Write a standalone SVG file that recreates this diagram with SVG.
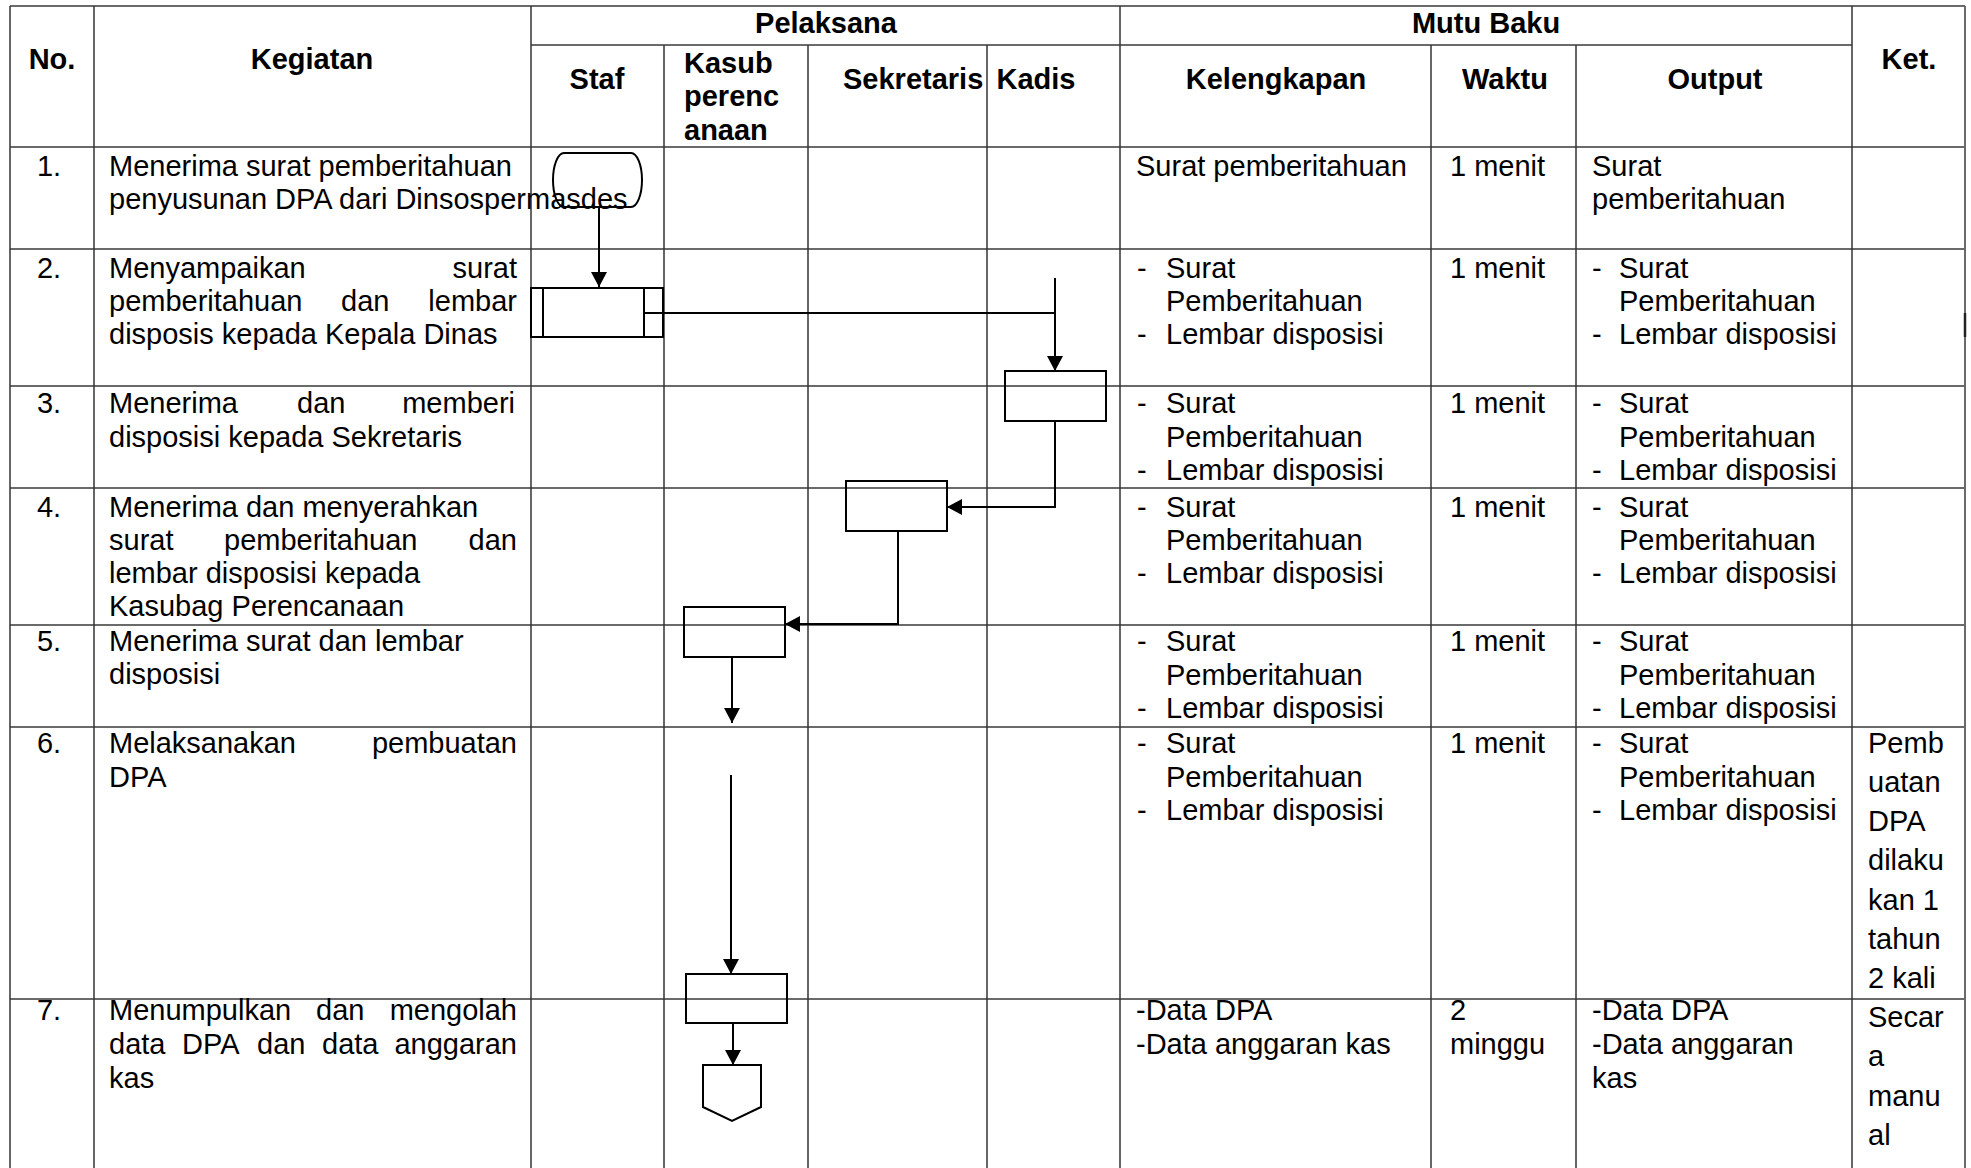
<svg xmlns="http://www.w3.org/2000/svg" width="1971" height="1168" viewBox="0 0 1971 1168">
<style>
text{font-family:"Liberation Sans",Arial,sans-serif;font-size:29px;fill:#000}
.b{font-weight:bold}
.m{text-anchor:middle}
.e{text-anchor:end}
.h{stroke:#6a6a6a;stroke-width:2;fill:none}
.v{stroke:#333;stroke-width:1.5;fill:none}
.shape{stroke:#000;stroke-width:2;fill:none}
.con{stroke:#000;stroke-width:2;fill:none}
</style>
<defs>
<marker id="arr" markerUnits="userSpaceOnUse" markerWidth="17" markerHeight="17" refX="15" refY="8" orient="auto">
<path d="M0,0 L15,8 L0,16 Z" fill="#000"/>
</marker>
</defs>
<rect width="1971" height="1168" fill="#fff"/>

<g id="grid">
<line class="h" x1="10" y1="6" x2="1965" y2="6"/>
<line class="h" x1="531" y1="45" x2="1852" y2="45"/>
<line class="h" x1="10" y1="147" x2="1965" y2="147"/>
<line class="h" x1="10" y1="249" x2="1965" y2="249"/>
<line class="h" x1="10" y1="386" x2="1965" y2="386"/>
<line class="h" x1="10" y1="488" x2="1965" y2="488"/>
<line class="h" x1="10" y1="625" x2="1965" y2="625"/>
<line class="h" x1="10" y1="727" x2="1965" y2="727"/>
<line class="h" x1="10" y1="999" x2="1965" y2="999"/>
<line class="v" x1="10" y1="6" x2="10" y2="1168"/>
<line class="v" x1="94" y1="6" x2="94" y2="1168"/>
<line class="v" x1="531" y1="6" x2="531" y2="1168"/>
<line class="v" x1="664" y1="45" x2="664" y2="1168"/>
<line class="v" x1="808" y1="45" x2="808" y2="1168"/>
<line class="v" x1="987" y1="45" x2="987" y2="1168"/>
<line class="v" x1="1120" y1="6" x2="1120" y2="1168"/>
<line class="v" x1="1431" y1="45" x2="1431" y2="1168"/>
<line class="v" x1="1576" y1="45" x2="1576" y2="1168"/>
<line class="v" x1="1852" y1="6" x2="1852" y2="1168"/>
<line class="h" x1="1965" y1="6" x2="1965" y2="1168"/>
<line x1="1965" y1="313" x2="1965" y2="337" stroke="#222" stroke-width="2.5"/>
</g>

<g id="header">
<text class="b m" x="52" y="69">No.</text>
<text class="b m" x="312" y="69">Kegiatan</text>
<text class="b m" x="826" y="33">Pelaksana</text>
<text class="b m" x="1486" y="33">Mutu Baku</text>
<text class="b m" x="1909" y="69">Ket.</text>
<text class="b m" x="597" y="89">Staf</text>
<text class="b" x="684" y="73">Kasub</text>
<text class="b" x="684" y="106">perenc</text>
<text class="b" x="684" y="140">anaan</text>
<text class="b" x="843" y="89">Sekretaris</text>
<text class="b m" x="1036" y="89">Kadis</text>
<text class="b m" x="1276" y="89">Kelengkapan</text>
<text class="b m" x="1505" y="89">Waktu</text>
<text class="b m" x="1715" y="89">Output</text>
</g>

<g id="row1">
<text class="m" x="49" y="176">1.</text>
<text x="109" y="176">Menerima surat pemberitahuan</text>
<text x="109" y="209">penyusunan DPA dari Dinsospermasdes</text>
<text x="1136" y="176">Surat pemberitahuan</text>
<text x="1450" y="176">1 menit</text>
<text x="1592" y="176">Surat</text>
<text x="1592" y="209">pemberitahuan</text>
</g>

<g id="row2">
<text class="m" x="49" y="278">2.</text>
<text x="109" y="278">Menyampaikan</text>
<text class="e" x="517" y="278">surat</text>
<text x="109" y="311">pemberitahuan</text>
<text x="341" y="311">dan</text>
<text class="e" x="517" y="311">lembar</text>
<text x="109" y="344">disposis kepada Kepala Dinas</text>
<text x="1137" y="278">-</text><text x="1166" y="278">Surat</text>
<text x="1166" y="311">Pemberitahuan</text>
<text x="1137" y="344">-</text><text x="1166" y="344">Lembar disposisi</text>
<text x="1450" y="278">1 menit</text>
<text x="1592" y="278">-</text><text x="1619" y="278">Surat</text>
<text x="1619" y="311">Pemberitahuan</text>
<text x="1592" y="344">-</text><text x="1619" y="344">Lembar disposisi</text>
</g>

<g id="row3">
<text class="m" x="49" y="413">3.</text>
<text x="109" y="413">Menerima</text>
<text x="297" y="413">dan</text>
<text class="e" x="515" y="413">memberi</text>
<text x="109" y="447">disposisi kepada Sekretaris</text>
<text x="1137" y="413">-</text><text x="1166" y="413">Surat</text>
<text x="1166" y="447">Pemberitahuan</text>
<text x="1137" y="480">-</text><text x="1166" y="480">Lembar disposisi</text>
<text x="1450" y="413">1 menit</text>
<text x="1592" y="413">-</text><text x="1619" y="413">Surat</text>
<text x="1619" y="447">Pemberitahuan</text>
<text x="1592" y="480">-</text><text x="1619" y="480">Lembar disposisi</text>
</g>

<g id="row4">
<text class="m" x="49" y="517">4.</text>
<text x="109" y="517">Menerima dan menyerahkan</text>
<text x="109" y="550">surat</text>
<text x="224" y="550">pemberitahuan</text>
<text class="e" x="517" y="550">dan</text>
<text x="109" y="583">lembar disposisi kepada</text>
<text x="109" y="616">Kasubag Perencanaan</text>
<text x="1137" y="517">-</text><text x="1166" y="517">Surat</text>
<text x="1166" y="550">Pemberitahuan</text>
<text x="1137" y="583">-</text><text x="1166" y="583">Lembar disposisi</text>
<text x="1450" y="517">1 menit</text>
<text x="1592" y="517">-</text><text x="1619" y="517">Surat</text>
<text x="1619" y="550">Pemberitahuan</text>
<text x="1592" y="583">-</text><text x="1619" y="583">Lembar disposisi</text>
</g>

<g id="row5">
<text class="m" x="49" y="651">5.</text>
<text x="109" y="651">Menerima surat dan lembar</text>
<text x="109" y="684">disposisi</text>
<text x="1137" y="651">-</text><text x="1166" y="651">Surat</text>
<text x="1166" y="685">Pemberitahuan</text>
<text x="1137" y="718">-</text><text x="1166" y="718">Lembar disposisi</text>
<text x="1450" y="651">1 menit</text>
<text x="1592" y="651">-</text><text x="1619" y="651">Surat</text>
<text x="1619" y="685">Pemberitahuan</text>
<text x="1592" y="718">-</text><text x="1619" y="718">Lembar disposisi</text>
</g>

<g id="row6">
<text class="m" x="49" y="753">6.</text>
<text x="109" y="753">Melaksanakan</text>
<text class="e" x="517" y="753">pembuatan</text>
<text x="109" y="787">DPA</text>
<text x="1137" y="753">-</text><text x="1166" y="753">Surat</text>
<text x="1166" y="787">Pemberitahuan</text>
<text x="1137" y="820">-</text><text x="1166" y="820">Lembar disposisi</text>
<text x="1450" y="753">1 menit</text>
<text x="1592" y="753">-</text><text x="1619" y="753">Surat</text>
<text x="1619" y="787">Pemberitahuan</text>
<text x="1592" y="820">-</text><text x="1619" y="820">Lembar disposisi</text>
<text x="1868" y="753">Pemb</text>
<text x="1868" y="792">uatan</text>
<text x="1868" y="831">DPA</text>
<text x="1868" y="870">dilaku</text>
<text x="1868" y="910">kan 1</text>
<text x="1868" y="949">tahun</text>
<text x="1868" y="988">2 kali</text>
</g>

<g id="row7">
<text class="m" x="49" y="1020">7.</text>
<text x="109" y="1020">Menumpulkan</text>
<text x="316" y="1020">dan</text>
<text class="e" x="517" y="1020">mengolah</text>
<text x="109" y="1054">data</text>
<text x="182" y="1054">DPA</text>
<text x="257" y="1054">dan</text>
<text x="322" y="1054">data</text>
<text class="e" x="517" y="1054">anggaran</text>
<text x="109" y="1088">kas</text>
<text x="1136" y="1020">-Data DPA</text>
<text x="1136" y="1054">-Data anggaran kas</text>
<text x="1450" y="1020">2</text>
<text x="1450" y="1054">minggu</text>
<text x="1592" y="1020">-Data DPA</text>
<text x="1592" y="1054">-Data anggaran</text>
<text x="1592" y="1088">kas</text>
<text x="1868" y="1027">Secar</text>
<text x="1868" y="1066">a</text>
<text x="1868" y="1106">manu</text>
<text x="1868" y="1145">al</text>
</g>

<g id="n1-start"><path class="shape" d="M564,153 H631 A11,27 0 0 1 631,207 H564 A11,27 0 0 1 564,153 Z"/></g>
<g id="n2-staf"><rect class="shape" x="531" y="288" width="132" height="49"/><line class="shape" x1="543" y1="288" x2="543" y2="337"/><line class="shape" x1="644" y1="288" x2="644" y2="337"/></g>
<g id="n3-kadis"><rect class="shape" x="1005" y="371" width="101" height="50"/></g>
<g id="n4-sekretaris"><rect class="shape" x="846" y="481" width="101" height="50"/></g>
<g id="n5-kasub"><rect class="shape" x="684" y="607" width="101" height="50"/></g>
<g id="n6-kasub"><rect class="shape" x="686" y="974" width="101" height="49"/></g>
<g id="n7-connector"><path class="shape" d="M703,1065 H761 V1107 L732,1121 L703,1107 Z"/></g>

<g id="connectors">
<path class="con" d="M599,207 V287" marker-end="url(#arr)"/>
<path class="con" d="M644,313 H1055"/>
<path class="con" d="M1055,278 V371" marker-end="url(#arr)"/>
<path class="con" d="M1055,421 V507 H947" marker-end="url(#arr)"/>
<path class="con" d="M898,531 V624 H785" marker-end="url(#arr)"/>
<path class="con" d="M732,657 V723" marker-end="url(#arr)"/>
<path class="con" d="M731,775 V974" marker-end="url(#arr)"/>
<path class="con" d="M733,1023 V1065" marker-end="url(#arr)"/>
</g>
</svg>
